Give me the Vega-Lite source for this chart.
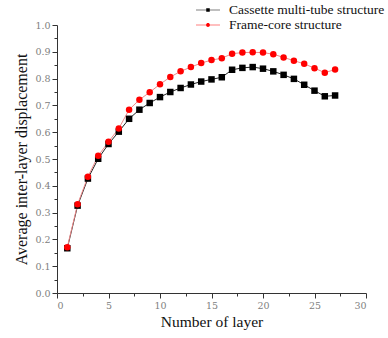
{
  "$schema": "https://vega.github.io/schema/vega-lite/v6.json",
  "width": 309,
  "height": 268,
  "autosize": {"type": "none"},
  "padding": {"left": 57, "top": 25, "right": 22, "bottom": 45},
  "background": "white",
  "config": {
    "view": {"stroke": null},
    "font": "Liberation Serif",
    "axis": {"grid": false, "domainColor": "#333", "tickColor": "#333", "labelColor": "#808080", "labelFont": "DejaVu Serif", "labelFontSize": 9.5, "titleFont": "Liberation Serif", "titleFontWeight": "normal", "titleColor": "#111"}
  },
  "data": {"values": [
    {"layer": 1, "s": "Cassette multi-tube structure", "v": 0.167},
    {"layer": 2, "s": "Cassette multi-tube structure", "v": 0.326},
    {"layer": 3, "s": "Cassette multi-tube structure", "v": 0.427},
    {"layer": 4, "s": "Cassette multi-tube structure", "v": 0.501},
    {"layer": 5, "s": "Cassette multi-tube structure", "v": 0.556},
    {"layer": 6, "s": "Cassette multi-tube structure", "v": 0.602},
    {"layer": 7, "s": "Cassette multi-tube structure", "v": 0.650},
    {"layer": 8, "s": "Cassette multi-tube structure", "v": 0.684},
    {"layer": 9, "s": "Cassette multi-tube structure", "v": 0.709},
    {"layer": 10, "s": "Cassette multi-tube structure", "v": 0.731},
    {"layer": 11, "s": "Cassette multi-tube structure", "v": 0.750},
    {"layer": 12, "s": "Cassette multi-tube structure", "v": 0.765},
    {"layer": 13, "s": "Cassette multi-tube structure", "v": 0.778},
    {"layer": 14, "s": "Cassette multi-tube structure", "v": 0.789},
    {"layer": 15, "s": "Cassette multi-tube structure", "v": 0.797},
    {"layer": 16, "s": "Cassette multi-tube structure", "v": 0.805},
    {"layer": 17, "s": "Cassette multi-tube structure", "v": 0.833},
    {"layer": 18, "s": "Cassette multi-tube structure", "v": 0.840},
    {"layer": 19, "s": "Cassette multi-tube structure", "v": 0.843},
    {"layer": 20, "s": "Cassette multi-tube structure", "v": 0.837},
    {"layer": 21, "s": "Cassette multi-tube structure", "v": 0.827},
    {"layer": 22, "s": "Cassette multi-tube structure", "v": 0.814},
    {"layer": 23, "s": "Cassette multi-tube structure", "v": 0.799},
    {"layer": 24, "s": "Cassette multi-tube structure", "v": 0.777},
    {"layer": 25, "s": "Cassette multi-tube structure", "v": 0.755},
    {"layer": 26, "s": "Cassette multi-tube structure", "v": 0.734},
    {"layer": 27, "s": "Cassette multi-tube structure", "v": 0.737},
    {"layer": 1, "s": "Frame-core structure", "v": 0.171},
    {"layer": 2, "s": "Frame-core structure", "v": 0.331},
    {"layer": 3, "s": "Frame-core structure", "v": 0.434},
    {"layer": 4, "s": "Frame-core structure", "v": 0.512},
    {"layer": 5, "s": "Frame-core structure", "v": 0.564},
    {"layer": 6, "s": "Frame-core structure", "v": 0.614},
    {"layer": 7, "s": "Frame-core structure", "v": 0.684},
    {"layer": 8, "s": "Frame-core structure", "v": 0.721},
    {"layer": 9, "s": "Frame-core structure", "v": 0.749},
    {"layer": 10, "s": "Frame-core structure", "v": 0.779},
    {"layer": 11, "s": "Frame-core structure", "v": 0.806},
    {"layer": 12, "s": "Frame-core structure", "v": 0.827},
    {"layer": 13, "s": "Frame-core structure", "v": 0.843},
    {"layer": 14, "s": "Frame-core structure", "v": 0.858},
    {"layer": 15, "s": "Frame-core structure", "v": 0.869},
    {"layer": 16, "s": "Frame-core structure", "v": 0.876},
    {"layer": 17, "s": "Frame-core structure", "v": 0.893},
    {"layer": 18, "s": "Frame-core structure", "v": 0.897},
    {"layer": 19, "s": "Frame-core structure", "v": 0.898},
    {"layer": 20, "s": "Frame-core structure", "v": 0.897},
    {"layer": 21, "s": "Frame-core structure", "v": 0.891},
    {"layer": 22, "s": "Frame-core structure", "v": 0.879},
    {"layer": 23, "s": "Frame-core structure", "v": 0.867},
    {"layer": 24, "s": "Frame-core structure", "v": 0.855},
    {"layer": 25, "s": "Frame-core structure", "v": 0.839},
    {"layer": 26, "s": "Frame-core structure", "v": 0.822},
    {"layer": 27, "s": "Frame-core structure", "v": 0.834}
  ]},
  "encoding": {
    "x": {"field": "layer", "type": "quantitative", "scale": {"domain": [0, 30], "nice": false},
      "axis": {"title": "Number of layer", "titleFontSize": 15.5, "values": [0,2.5,5,7.5,10,12.5,15,17.5,20,22.5,25,27.5,30], "labelExpr": "datum.value % 5 == 0 ? datum.label : ''", "tickSize": {"condition": {"test": "datum.value % 5 == 0", "value": 5}, "value": 3}, "format": "d", "titlePadding": 5, "labelPadding": 2}},
    "y": {"field": "v", "type": "quantitative", "scale": {"domain": [0, 1], "nice": false},
      "axis": {"title": "Average inter-layer displacement", "titleFontSize": 16, "values": [0,0.05,0.1,0.15,0.2,0.25,0.3,0.35,0.4,0.45,0.5,0.55,0.6,0.65,0.7,0.75,0.8,0.85,0.9,0.95,1.0], "labelExpr": "round(datum.value*100) % 10 == 0 ? format(datum.value, '.1f') : ''", "tickSize": {"condition": {"test": "round(datum.value*100) % 10 == 0", "value": 5}, "value": 3}, "titlePadding": 5, "labelPadding": 2}}
  },
  "layer": [
    {
      "mark": {"type": "point", "filled": true, "opacity": 1, "size": 1},
      "encoding": {
        "color": {"field": "s", "type": "nominal", "scale": {"range": ["#000000", "#ff0000"]},
          "legend": {"title": null, "orient": "none", "legendX": 143, "legendY": -23, "padding": 0, "labelFont": "Liberation Serif", "labelFontSize": 13.5, "labelColor": "#111", "labelLimit": 300, "symbolSize": 256, "symbolStrokeWidth": 0, "rowPadding": 0, "labelOffset": 13}},
        "shape": {"field": "s", "type": "nominal", "scale": {"range": [
          "M-1.5,-0.035H-0.22V-0.22H0.22V-0.035H1.5V0.035H0.22V0.22H-0.22V0.035H-1.5Z",
          "M-1.5,-0.035H-0.237A0.24,0.24 0 0,1 0.237,-0.035H1.5V0.035H0.237A0.24,0.24 0 0,1 -0.237,0.035H-1.5Z"
        ]}}
      }
    },
    {
      "mark": {"type": "line", "strokeWidth": 1},
      "encoding": {
        "detail": {"field": "s"},
        "stroke": {"field": "s", "type": "nominal", "scale": {"range": ["#222222", "#f08a8a"]}, "legend": null}
      }
    },
    {
      "transform": [{"filter": "datum.s == 'Cassette multi-tube structure'"}],
      "mark": {"type": "point", "filled": true, "opacity": 1, "size": 42, "shape": "square", "color": "#000000"}
    },
    {
      "transform": [{"filter": "datum.s == 'Frame-core structure'"}],
      "mark": {"type": "point", "filled": true, "opacity": 1, "size": 42, "shape": "circle", "color": "#ff0000"}
    }
  ]
}
